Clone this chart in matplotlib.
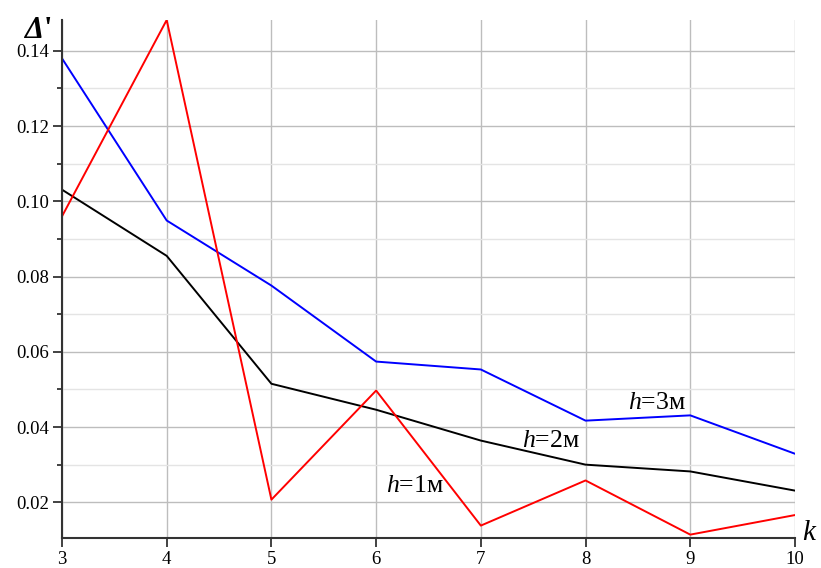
import numpy as np
import matplotlib.pyplot as plt
from matplotlib.ticker import MultipleLocator

plt.rcParams['font.family'] = ['Liberation Serif', 'DejaVu Serif']
plt.rcParams['mathtext.fontset'] = 'custom'
plt.rcParams['mathtext.rm'] = 'Liberation Serif'
plt.rcParams['mathtext.it'] = 'Liberation Serif:italic'
plt.rcParams['mathtext.bf'] = 'Liberation Serif:bold:italic'

k = [3, 4, 5, 6, 7, 8, 9, 10]
h1 = [0.0960, 0.1482, 0.0207, 0.0497, 0.0138, 0.0258, 0.0114, 0.0166]
h2 = [0.1031, 0.0855, 0.0515, 0.0446, 0.0364, 0.0300, 0.0282, 0.0231]
h3 = [0.1380, 0.0949, 0.0776, 0.0574, 0.0553, 0.0417, 0.0431, 0.0329]
yticks = [0.02, 0.04, 0.06, 0.08, 0.10, 0.12, 0.14]
ylabels = ['0.02', '0.04', '0.06', '0.08', '0.10', '0.12', '0.14']

fig = plt.figure(figsize=(8.21, 5.68), dpi=100)
ax = fig.add_axes([0.0755, 0.0528, 0.8928, 0.912])

ax.plot(k, h3, color='#0000ff', lw=1.4)
ax.plot(k, h2, color='#000000', lw=1.4)
ax.plot(k, h1, color='#ff0000', lw=1.4)

ax.set_xlim(3, 10)
ax.set_ylim(0.0105, 0.1482)
ax.xaxis.set_major_locator(MultipleLocator(1))
ax.yaxis.set_minor_locator(MultipleLocator(0.01))
ax.set_yticks(yticks)
ax.set_yticklabels(ylabels)

ax.grid(which='major', axis='both', color='#bdbdbd', lw=1.0)
ax.grid(which='minor', axis='y', color='#e4e4e4', lw=1.0)
ax.set_axisbelow(True)

for s in ['top', 'right']:
    ax.spines[s].set_visible(False)
for s in ['left', 'bottom']:
    ax.spines[s].set_color('#333333')
    ax.spines[s].set_linewidth(1.5)

ax.tick_params(which='major', direction='out', length=6.5, width=1.3, color='#333333', labelsize=13.5, pad=3)
ax.tick_params(which='minor', direction='out', length=3.5, width=1.3, color='#333333')

fig.text(0.045, 0.946, "$\\mathbf{\\Delta}$'", ha='center', va='center',
         fontsize=22, fontweight='bold')
fig.text(0.985, 0.062, 'k', fontsize=21, style='italic', ha='center', va='center')

ax.text(8.405, 0.0449, '$h$=3м', fontsize=18.5, ha='left', va='baseline')
ax.text(7.395, 0.0348, '$h$=2м', fontsize=18.5, ha='left', va='baseline')
ax.text(6.098, 0.0226, '$h$=1м', fontsize=18.5, ha='left', va='baseline')

fig.savefig('out.png', dpi=100)
